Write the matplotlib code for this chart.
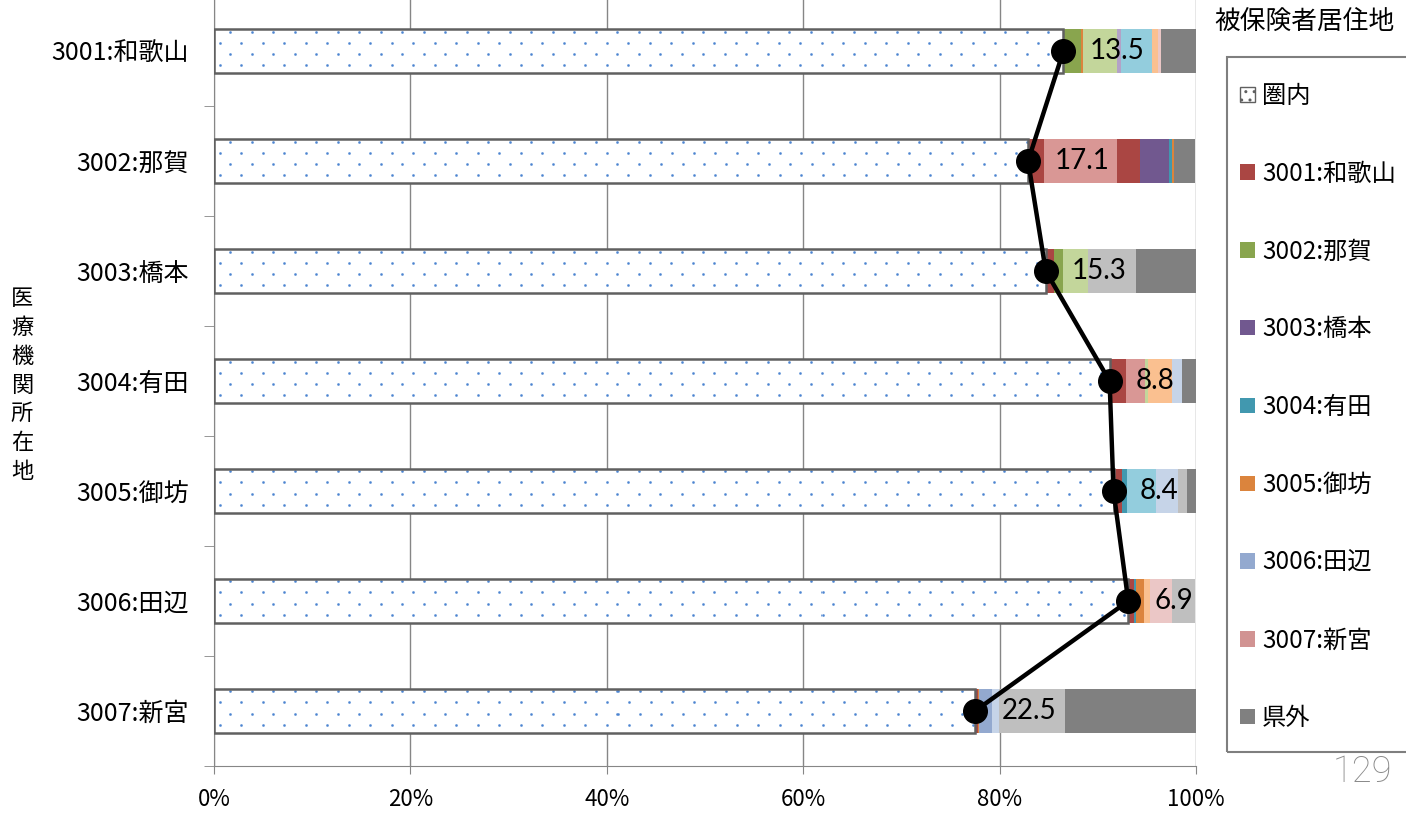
import numpy as np
import matplotlib.pyplot as plt
from matplotlib.patches import Patch, Rectangle

plt.rcParams['font.family'] = ['Noto Sans CJK JP', 'DejaVu Sans']

# 医療機関所在地 (bars, top to bottom)
areas = ['3001:和歌山', '3002:那賀', '3003:橋本', '3004:有田',
         '3005:御坊', '3006:田辺', '3007:新宮']
# share of patients living inside the area (%)
inner = [86.5, 82.9, 84.7, 91.2, 91.6, 93.1, 77.5]
# labelled value on the line (% from outside the area)
outside = [13.5, 17.1, 15.3, 8.8, 8.4, 6.9, 22.5]

# remaining segments, in stacking order (% of each bar)
s3001 = [0, 1.6, 0.8, 1.7, 0.85, 0.55, 0.25]
s3001_pink = [0, 7.5, 0, 1.9, 0, 0, 0]
s3001_dark = [0, 2.3, 0, 0, 0, 0, 0]
s3002 = [1.8, 0, 1.0, 0, 0, 0, 0]
s3003 = [0, 3.0, 0, 0, 0, 0, 0]
s3004 = [0, 0.3, 0, 0, 0.5, 0.2, 0]
s3005 = [0.15, 0.15, 0, 0, 0, 0.9, 0.15]
s3006 = [0, 0, 0, 0, 0, 0, 1.3]
s3007 = [0, 0, 0, 0, 0, 0, 0]
light_green = [3.55, 0, 2.5, 0.35, 0, 0, 0]
light_purple = [0.4, 0, 0, 0, 0, 0, 0]
light_cyan = [3.1, 0, 0, 0, 3.0, 0, 0]
light_orange = [0.6, 0, 0, 2.4, 0, 0.55, 0]
light_blue = [0, 0, 0, 1.0, 2.2, 0, 0.75]
light_pink = [0.3, 0, 0, 0, 0, 2.3, 0]
light_gray = [0, 0, 4.9, 0, 0.9, 2.3, 6.7]
kengai = [3.6, 2.1, 6.1, 1.45, 0.9, 0, 13.35]

series = [s3001, s3001_pink, s3001_dark, s3002, s3003, s3004, s3005, s3006, s3007,
          light_green, light_purple, light_cyan, light_orange, light_blue,
          light_pink, light_gray, kengai]
colors = ['#AA4643', '#D99795', '#AA4643', '#89A54E', '#71588F', '#4198AF',
          '#DB843D', '#93A9CF', '#D19392', '#C3D69B', '#B3A2C7', '#93CDDD',
          '#FAC090', '#C6D4E8', '#EBC7C6', '#BFBFBF', '#808080']

legend_labels = ['3001:和歌山', '3002:那賀', '3003:橋本', '3004:有田',
                 '3005:御坊', '3006:田辺', '3007:新宮', '県外']
legend_colors = ['#AA4643', '#89A54E', '#71588F', '#4198AF',
                 '#DB843D', '#93A9CF', '#D19392', '#808080']

fig = plt.figure(figsize=(14.06, 8.13), dpi=100)
ax = fig.add_axes([214 / 1406, 1 - 766 / 813, 982 / 1406, 770 / 813])

# dotted texture for the 圏内 bars (one pixel per texel of the axes)
H, W = 770, 982
alpha = np.zeros((H, W))
for i, r in enumerate(range(3, H - 2, 11)):
    cs = np.arange(6 + (i % 2) * 10.75, W - 2, 21.5).astype(int)
    for dr in (-1, 0, 1):
        for dc in (-1, 0, 1):
            a = 1.0 if dr == 0 and dc == 0 else (0.75 if dr == 0 or dc == 0 else 0.35)
            alpha[r + dr, cs + dc] = np.maximum(alpha[r + dr, cs + dc], a)
tex = np.zeros((H, W, 4))
tex[..., 0], tex[..., 1], tex[..., 2] = 0.30, 0.52, 0.82
tex[..., 3] = alpha

y = np.arange(len(areas))
h = 0.4
bars = ax.barh(y, inner, height=h, color='white', linewidth=0, zorder=2)
for b in bars:
    im = ax.imshow(tex, extent=(0, 100, 6.5, -0.5), aspect='auto',
                   interpolation='nearest', zorder=2.5)
    im.set_clip_path(b)
ax.barh(y, inner, height=h, fill=False, edgecolor='#606060', linewidth=1.8, zorder=3)

left = np.array(inner, dtype=float)
for vals, col in zip(series, colors):
    ax.barh(y, vals, left=left, height=h, color=col, linewidth=0, zorder=2)
    left += np.array(vals)

ax.plot(inner, y, color='black', lw=3.2, marker='o', ms=17, zorder=5)
for yi, xi, v in zip(y, inner, outside):
    ax.annotate(f'{v:.1f}', (xi, yi), xytext=(19, 0), textcoords='offset points',
                ha='left', va='center', fontsize=20, family='Lato', zorder=6)

ax.set_xlim(0, 100)
ax.set_ylim(6.5, -0.5)
ax.set_xticks(np.arange(0, 101, 20))
ax.set_xticklabels([f'{t}%' for t in range(0, 101, 20)], fontsize=16)
ax.set_yticks(y)
ax.set_yticklabels(areas, fontsize=18)
ax.set_yticks(np.arange(-0.5, 7, 1), minor=True)
ax.tick_params(axis='y', which='major', length=0, pad=18)
ax.tick_params(axis='y', which='minor', length=7, color='#868686', direction='out')
ax.tick_params(axis='x', length=6, color='#868686', pad=10)
ax.grid(axis='x', color='#868686', lw=1, zorder=0)
ax.set_axisbelow(True)
for s in ['top', 'right']:
    ax.spines[s].set_visible(False)
for s in ['left', 'bottom']:
    ax.spines[s].set_color('#868686')

fig.text(22 / 1406, 1 - 385 / 813, '\n'.join('医療機関所在地'), ha='center',
         va='center', fontsize=16, linespacing=1.33)
fig.text(1304 / 1406, 1 - 22 / 813, '被保険者居住地', ha='center', va='center',
         fontsize=18.5)
fig.text(1392 / 1406, 1 - 772 / 813, '129', ha='right', va='center', fontsize=26,
         color='#8a8a8a', family='Roboto', weight='light')

# legend box runs off the right edge, as in the original
fig.add_artist(Rectangle((1227 / 1406, 1 - 752 / 813), 200 / 1406, 695 / 813,
                         transform=fig.transFigure, fill=False,
                         edgecolor='#7f7f7f', linewidth=1.5))
handles = [Patch(facecolor='white', edgecolor='#606060', hatch='..', label='圏内')]
handles += [Patch(facecolor=c, label=l) for c, l in zip(legend_colors, legend_labels)]
fig.legend(handles=handles, loc='upper left',
           bbox_to_anchor=(1240 / 1406, 1 - 83 / 813), frameon=False,
           fontsize=17.5, labelspacing=2.13, handlelength=0.6, handleheight=0.6,
           handletextpad=0.3, borderpad=0, borderaxespad=0)

fig.savefig('out.png', dpi=100)
